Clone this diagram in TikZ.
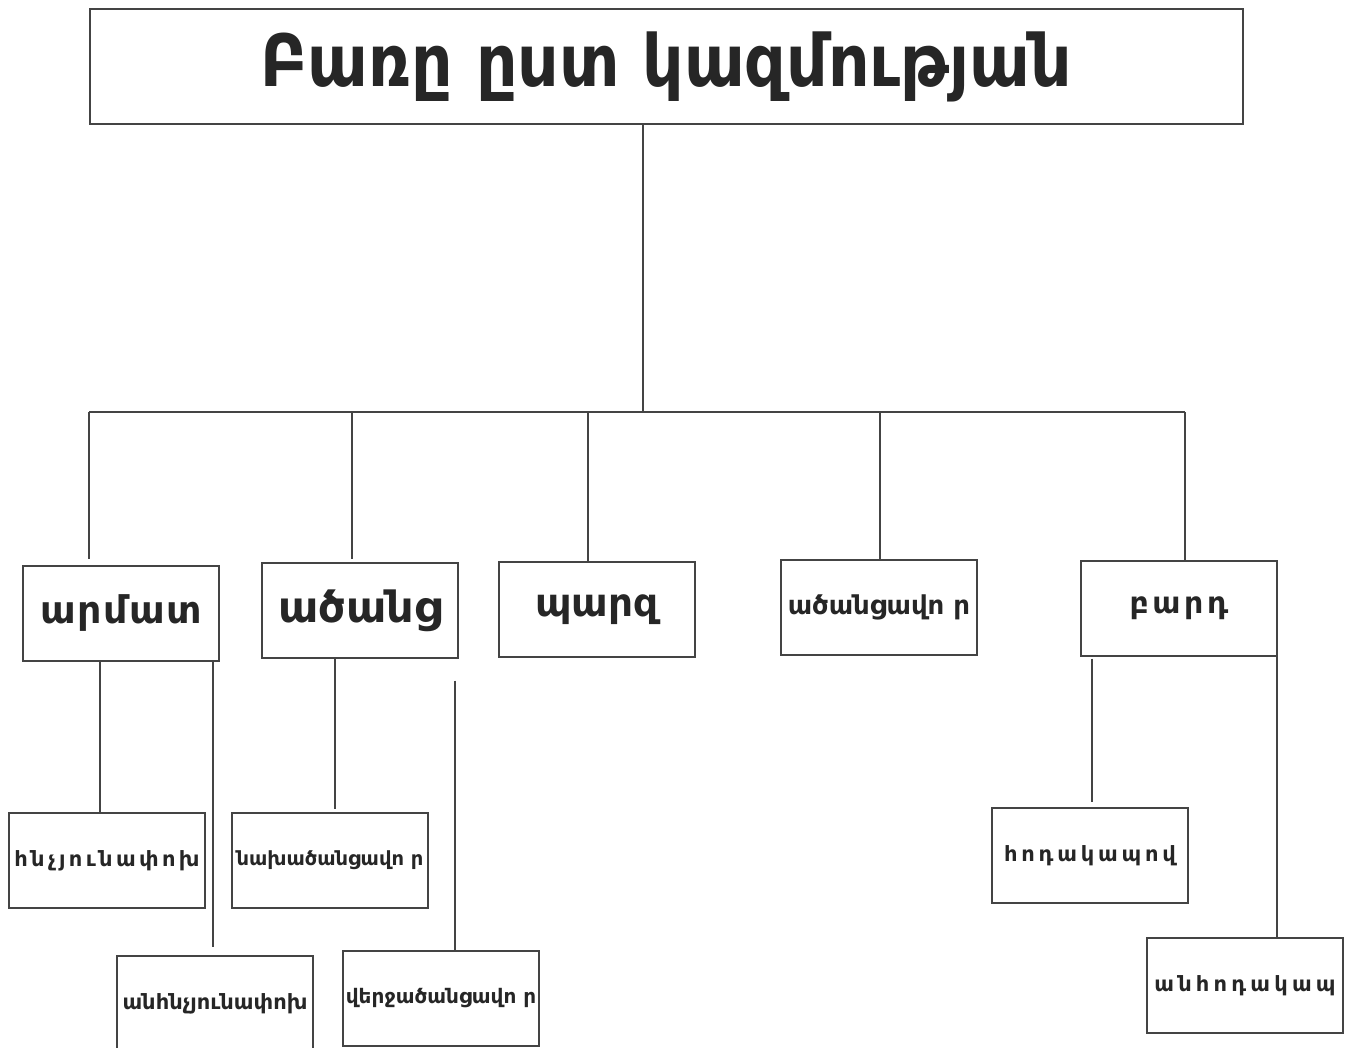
\documentclass[tikz,border=0pt]{standalone}
\usepackage{fontspec}
\setmainfont{DejaVu Sans}
\newfontfamily\titlefont[FakeStretch=0.9]{DejaVu Sans}
\usetikzlibrary{positioning}
\definecolor{linegray}{HTML}{444444}
\definecolor{inkgray}{HTML}{262626}
\newcommand{\spaced}[1]{\addfontfeature{LetterSpace=#1}}
\tikzset{
	box/.style={draw=linegray, line width=1.1pt, minimum width=196pt, minimum height=95pt, inner sep=0pt, text=inkgray, font=\bfseries},
	link/.style={draw=linegray, line width=1.1pt},
}

\begin{document}
\begin{tikzpicture}[x=1pt,y=-1pt]
	\useasboundingbox (0,0) rectangle (1354,1048);
	% title
	\node [box, minimum width=1153pt, minimum height=115pt, font=\titlefont\bfseries\fontsize{72}{80}\selectfont] (title) at (666.5,66.5) {Բառը ըստ կազմության};
	% first row
	\node [box, font=\bfseries\fontsize{38}{42}\selectfont\spaced{4}] (armat) at (121,613.5) {արմատ};
	\node [box, font=\bfseries\fontsize{43}{48}\selectfont] (atsants) at (360,610.5) {ածանց};
	\node [box, font=\bfseries\fontsize{39}{44}\selectfont] (parz) at (597,609.5) {պարզ};
	\node [box, font=\bfseries\fontsize{26}{30}\selectfont] (atsantsavor) at (879,607.5) {ածանցավո ր};
	\node [box, font=\bfseries\fontsize{30}{34}\selectfont\spaced{12}] (bard) at (1179,608.5) {բարդ};
	% second row
	\node [box, font=\bfseries\fontsize{21}{24}\selectfont\spaced{16}] (hnch) at (107,860.5) {հնչյունափոխ};
	\node [box, font=\bfseries\fontsize{21}{24}\selectfont] (anhnch) at (215,1003.5) {անհնչյունափոխ};
	\node [box, font=\bfseries\fontsize{19.5}{24}\selectfont] (nakh) at (330,860.5) {նախածանցավո ր};
	\node [box, font=\bfseries\fontsize{20}{24}\selectfont] (verj) at (441,998.5) {վերջածանցավո ր};
	\node [box, font=\bfseries\fontsize{21}{24}\selectfont\spaced{18}] (hodak) at (1090,855.5) {հոդակապով};
	\node [box, font=\bfseries\fontsize{21}{24}\selectfont\spaced{20}] (anhodak) at (1245,985.5) {անհոդակապ};
	% bus
	\coordinate (hub) at (643,412);
	\coordinate (busL) at (89,412);
	\coordinate (busR) at (1185,412);
	\draw [link] (title.south -| hub) -- (hub);
	\draw [link] (busL) -- (busR);
	\foreach \x/\n/\g in {89/armat/6,352/atsants/3,588/parz/0,880/atsantsavor/0,1185/bard/0}{
		\draw [link] (\x,412) -- ([yshift=\g pt]\n.north -| \x,0);
	}
	% lower links
	\draw [link] (armat.south -| 100,0) -- (hnch.north -| 100,0);
	\draw [link] (armat.south -| 213,0) -- ([yshift=8pt]anhnch.north -| 213,0);
	\draw [link] (atsants.south -| 335,0) -- ([yshift=3pt]nakh.north -| 335,0);
	\draw [link] ([yshift=-22pt]atsants.south -| 455,0) -- (verj.north -| 455,0);
	\draw [link] ([yshift=-2pt]bard.south -| 1092,0) -- ([yshift=5pt]hodak.north -| 1092,0);
	\draw [link] ([yshift=-5pt]bard.east -| 1277,0) -- ([yshift=-2pt]anhodak.north -| 1277,0);
\end{tikzpicture}
\end{document}
